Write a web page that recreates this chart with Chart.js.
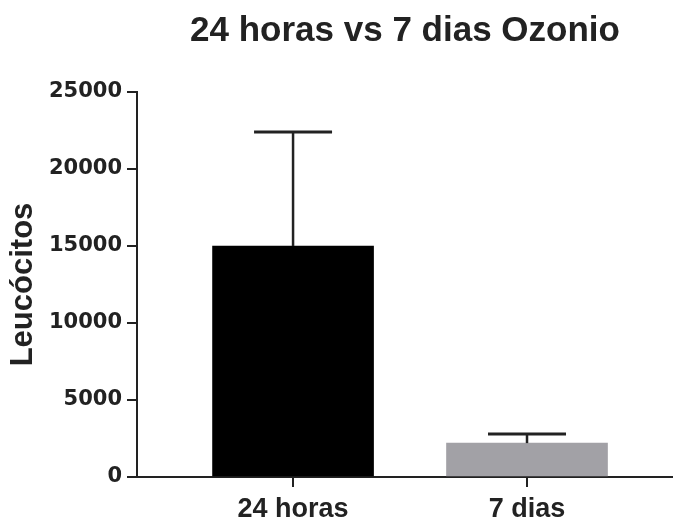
<!DOCTYPE html>
<html>
<head>
<meta charset="utf-8">
<script src="https://cdn.jsdelivr.net/npm/chart.js@4"></script>
<style>
  html, body { margin: 0; padding: 0; background: #fff; }
  #wrap { width: 673px; height: 522px; }
</style>
</head>
<body>
<div id="wrap"><canvas id="c" width="673" height="522"></canvas></div>
<script>
const categories = ['24 horas', '7 dias'];
const means = [15000, 2200];
const errors = [7400, 600];
const yTicks = [0, 5000, 10000, 15000, 20000, 25000];
const barColors = ['#000000', '#a2a1a6'];

const ink = '#222222';

const errorBars = {
  id: 'errorBars',
  afterDatasetsDraw(chart) {
    const ctx = chart.ctx;
    const meta = chart.getDatasetMeta(0);
    const ys = chart.scales.y;
    ctx.save();
    ctx.strokeStyle = ink;
    meta.data.forEach((bar, i) => {
      const top = ys.getPixelForValue(means[i]);
      const capY = ys.getPixelForValue(means[i] + errors[i]);
      const cx = bar.x;
      ctx.lineWidth = 2.5;
      ctx.beginPath();
      ctx.moveTo(cx, top);
      ctx.lineTo(cx, capY);
      ctx.stroke();
      ctx.lineWidth = 3;
      ctx.beginPath();
      ctx.moveTo(cx - 39, capY);
      ctx.lineTo(cx + 39, capY);
      ctx.stroke();
    });
    ctx.restore();
  }
};

new Chart(document.getElementById('c'), {
  type: 'bar',
  data: {
    datasets: [{
      data: means.map((v, i) => ({ x: i, y: v })),
      backgroundColor: barColors,
      borderWidth: 0,
      barThickness: 161
    }]
  },
  options: {
    responsive: false,
    animation: false,
    devicePixelRatio: 1,
    layout: { padding: { left: 0, right: 0, top: 0, bottom: 0 } },
    plugins: {
      legend: { display: false },
      tooltip: { enabled: false },
      title: {
        display: true,
        fullSize: false,
        text: '24 horas vs 7 dias Ozonio',
        color: ink,
        font: { family: '"Liberation Sans", Arial, sans-serif', size: 35, weight: 'bold', lineHeight: 1.2 },
        padding: { top: 10, bottom: 40 }
      }
    },
    scales: {
      x: {
        type: 'linear',
        offset: false,
        min: -0.667,
        max: 1.624,
        afterBuildTicks(scale) {
          scale.ticks = categories.map((c, i) => ({ value: i }));
        },
        afterFit(scale) { scale.height = 45; },
        ticks: {
          autoSkip: false,
          maxRotation: 0,
          padding: 6,
          color: ink,
          font: { family: '"Liberation Sans", Arial, sans-serif', size: 27, weight: 'bold' },
          callback: (v) => categories[v] !== undefined ? categories[v] : ''
        },
        grid: { display: true, offset: false, drawOnChartArea: false, tickLength: 10, color: ink, lineWidth: 2 },
        border: { display: true, color: ink, width: 2 }
      },
      y: {
        min: 0,
        max: 25000,
        afterBuildTicks(scale) {
          scale.ticks = yTicks.map(v => ({ value: v }));
        },
        afterFit(scale) { scale.width = 137; },
        ticks: {
          padding: 5,
          color: ink,
          font: { family: '"DejaVu Sans", sans-serif', size: 21, weight: 'bold' },
          callback: (v) => String(v)
        },
        grid: { display: true, drawOnChartArea: false, tickLength: 10, color: ink, lineWidth: 2 },
        border: { display: true, color: ink, width: 2 },
        title: {
          display: true,
          text: 'Leucócitos',
          color: ink,
          font: { family: '"Liberation Sans", Arial, sans-serif', size: 31, weight: 'bold', lineHeight: 1.2 },
          padding: { top: 5, bottom: 0 }
        }
      }
    }
  },
  plugins: [errorBars]
});
</script>
</body>
</html>
